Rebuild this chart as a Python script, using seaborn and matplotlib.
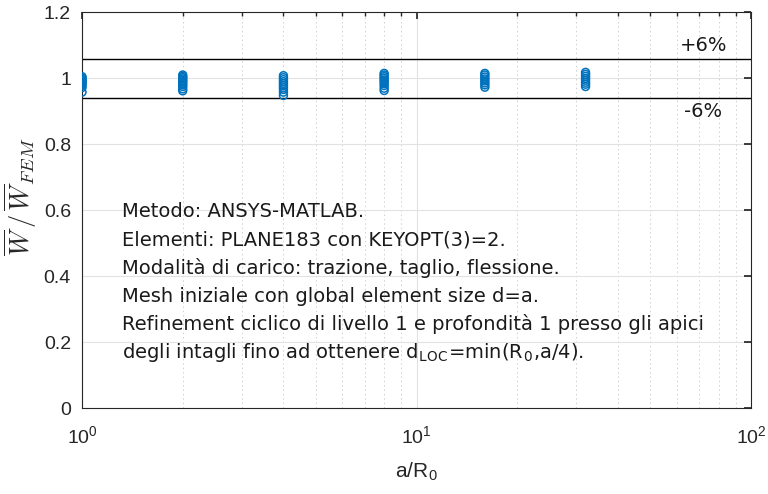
import numpy as np
import pandas as pd
import matplotlib
matplotlib.use("Agg")
import matplotlib.pyplot as plt
import seaborn as sns
from matplotlib.ticker import LogLocator, FixedLocator, NullFormatter

sns.set_theme(style="white")
plt.rcParams["font.family"] = ["Liberation Sans", "DejaVu Sans"]
plt.rcParams["mathtext.fontset"] = "cm"

# a/R0 ratios and the energy ratio W/W_FEM obtained for each of them
ratio_1 = [1.005, 1.000, 0.997, 0.993, 0.990, 0.986, 0.982, 0.978, 0.972, 0.958]
ratio_2 = [1.010, 1.006, 1.002, 0.998, 0.994, 0.990, 0.985, 0.980, 0.975, 0.968, 0.962]
ratio_4 = [1.008, 1.002, 0.996, 0.990, 0.984, 0.978, 0.972, 0.966, 0.958, 0.948]
ratio_8 = [1.015, 1.010, 1.005, 1.000, 0.995, 0.990, 0.984, 0.978, 0.970, 0.963]
ratio_16 = [1.015, 1.010, 1.004, 0.998, 0.992, 0.986, 0.980, 0.973]
ratio_32 = [1.018, 1.012, 1.006, 1.000, 0.994, 0.988, 0.982, 0.975]
a_over_r0 = [1, 2, 4, 8, 16, 32]
band_pct = 6

rows = []
for x, vals in zip(a_over_r0, [ratio_1, ratio_2, ratio_4, ratio_8, ratio_16, ratio_32]):
    for v in vals:
        rows.append({"a/R0": x, "W": v})
df = pd.DataFrame(rows)

fig = plt.figure(figsize=(7.68, 4.94), dpi=100)
ax = fig.add_axes([0.1068, 0.174, 0.8712, 0.801])

sns.scatterplot(data=df, x="a/R0", y="W", ax=ax, marker="o",
                facecolor="none", edgecolor="#0072BD", linewidth=1.1,
                s=32, zorder=3, legend=False)

ax.set_xscale("log")
ax.set_xlim(1, 100)
ax.set_ylim(0, 1.2)

# tolerance band
ax.axhline(1 + band_pct / 100, color="black", lw=1.0, zorder=2)
ax.axhline(1 - band_pct / 100, color="black", lw=1.0, zorder=2)
ax.text(72, 1 + band_pct / 100 + 0.012, f"+{band_pct}%", fontsize=14,
        family=["DejaVu Sans"], ha="center", va="bottom", color="#1a1a1a")
ax.text(72, 1 - band_pct / 100 - 0.012, f"-{band_pct}%", fontsize=14,
        family=["DejaVu Sans"], ha="center", va="top", color="#1a1a1a")

ax.set_yticks(np.round(np.arange(0, 1.21, 0.2), 1))
ax.set_yticklabels(["0", "0.2", "0.4", "0.6", "0.8", "1", "1.2"])
ax.xaxis.set_major_locator(FixedLocator([1, 10, 100]))
ax.set_xticklabels(["$\\mathregular{10^0}$", "$\\mathregular{10^1}$", "$\\mathregular{10^2}$"])
ax.xaxis.set_minor_locator(LogLocator(base=10, subs=np.arange(2, 10)))
ax.xaxis.set_minor_formatter(NullFormatter())

ax.grid(True, which="major", color="#e2e2e2", lw=0.8, zorder=0)
ax.grid(True, which="minor", axis="x", color="#d0d0d0", lw=0.7, ls=(0, (1.5, 3)), zorder=0)
ax.set_axisbelow(True)

for sp in ax.spines.values():
    sp.set_visible(True)
    sp.set_color("#262626")
    sp.set_linewidth(0.8)

ax.tick_params(which="both", direction="in", top=True, right=True, colors="#262626",
               labelsize=14, labelcolor="#262626")
ax.tick_params(which="major", length=5)
ax.tick_params(which="minor", length=3)
ax.tick_params(axis="x", pad=12)
ax.tick_params(axis="y", pad=8)

ax.set_xlabel("a/R$_\\mathregular{0}$", fontsize=15, color="#262626", labelpad=10)
ax.set_ylabel("$\\overline{W}\\,/\\,\\overline{W}_{FEM}$", fontsize=19, color="#262626")
ax.yaxis.set_label_coords(-0.064, 0.535)

notes = [
    "Metodo: ANSYS-MATLAB.",
    "Elementi: PLANE183 con KEYOPT(3)=2.",
    "Modalità di carico: trazione, taglio, flessione.",
    "Mesh iniziale con global element size d=a.",
    "Refinement ciclico di livello 1 e profondità 1 presso gli apici",
    "degli intagli fino ad ottenere d$_\\mathregular{LOC}$=min(R$_\\mathregular{0}$,a/4).",
]
y0 = 0.496
for i, line in enumerate(notes):
    ax.text(0.06, y0 - i * 0.0712, line, transform=ax.transAxes,
            fontsize=14.0, family=["DejaVu Sans"], color="#1a1a1a",
            va="center", ha="left")

fig.savefig("out.png", dpi=100)
